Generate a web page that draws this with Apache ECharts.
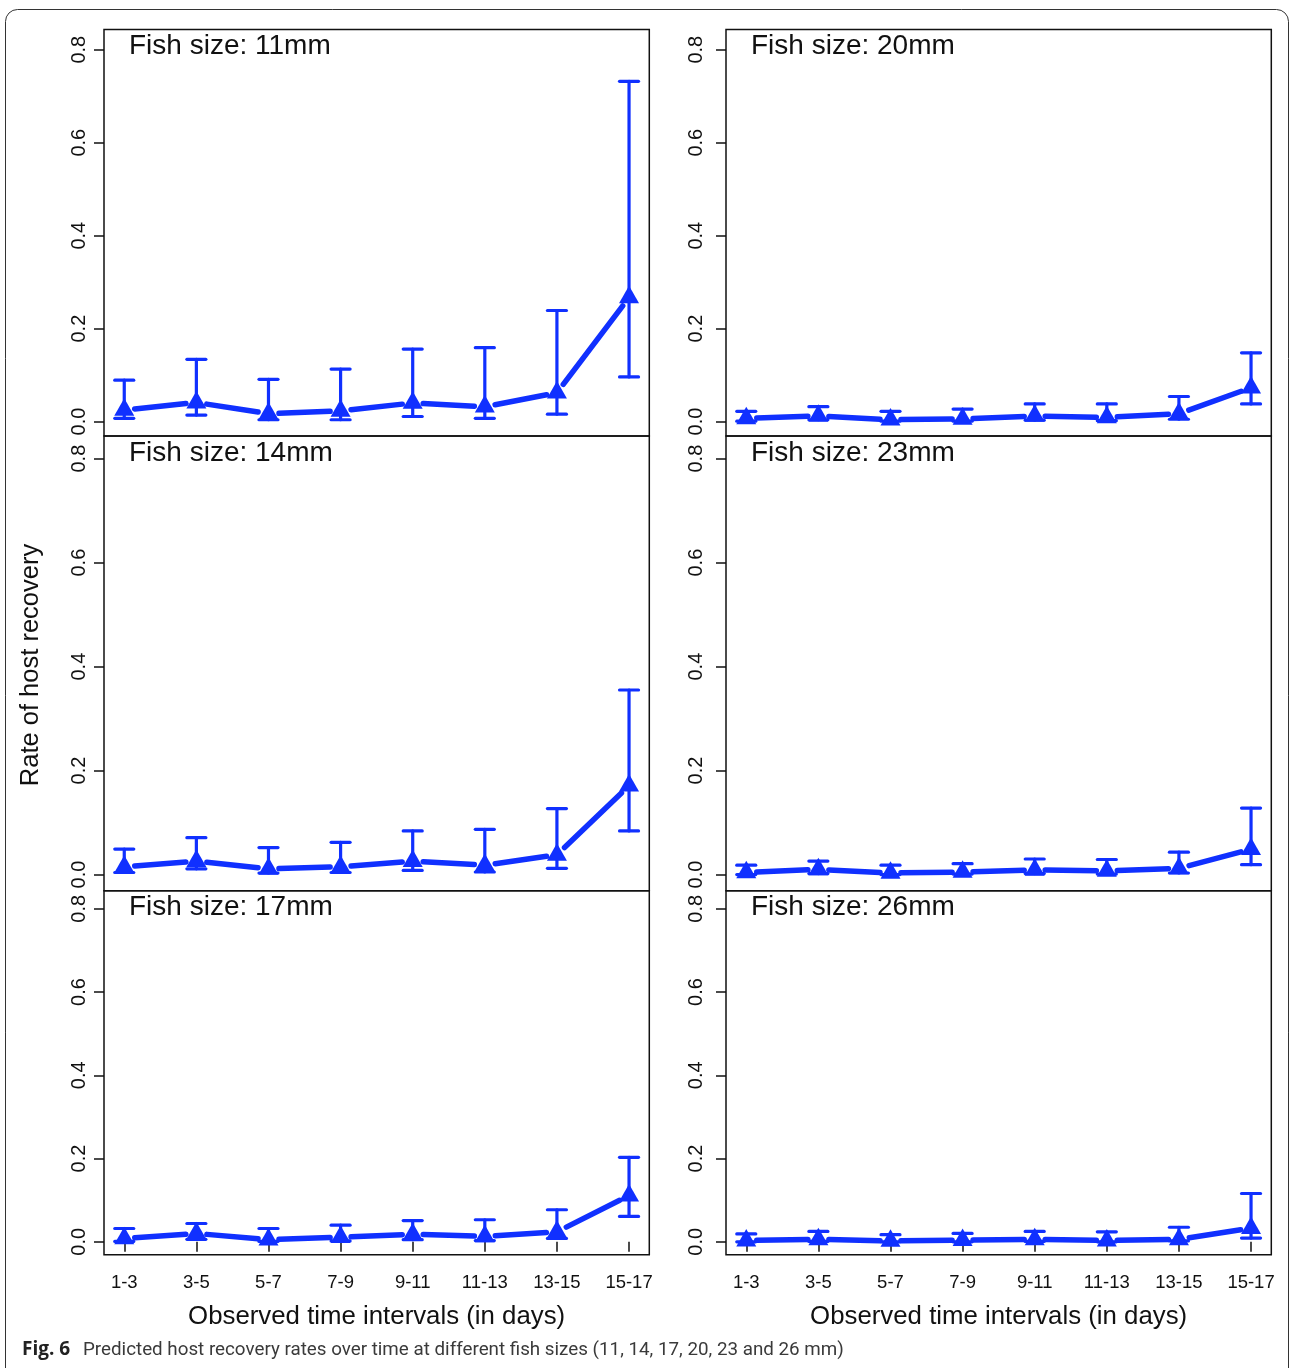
<!DOCTYPE html>
<html><head><meta charset="utf-8">
<script src="https://cdn.jsdelivr.net/npm/echarts@6/dist/echarts.min.js"></script>
<style>html,body{margin:0;padding:0;background:#fff}#c{width:1290px;height:1368px}</style>
</head><body><div id="c"></div>
<script>
// ---------- data ----------
const categories = ['1-3','3-5','5-7','7-9','9-11','11-13','13-15','15-17'];
const yTickValues = [0, 0.2, 0.4, 0.6, 0.8];
const panelTitles = ['Fish size: 11mm','Fish size: 14mm','Fish size: 17mm','Fish size: 20mm','Fish size: 23mm','Fish size: 26mm'];

const est11 = [0.025, 0.041, 0.017, 0.023, 0.040, 0.032, 0.062, 0.267];
const lo11  = [0.007, 0.014, 0.004, 0.004, 0.011, 0.007, 0.016, 0.096];
const hi11  = [0.089, 0.134, 0.091, 0.113, 0.156, 0.159, 0.239, 0.732];

const est14 = [0.015, 0.026, 0.011, 0.015, 0.026, 0.018, 0.038, 0.171];
const lo14  = [0.004, 0.011, 0.003, 0.004, 0.008, 0.005, 0.012, 0.084];
const hi14  = [0.049, 0.071, 0.052, 0.062, 0.084, 0.087, 0.127, 0.355];

const est17 = [0.008, 0.020, 0.005, 0.011, 0.018, 0.013, 0.024, 0.111];
const lo17  = [0.001, 0.006, 0.001, 0.002, 0.005, 0.003, 0.008, 0.061];
const hi17  = [0.032, 0.044, 0.032, 0.040, 0.051, 0.053, 0.077, 0.203];

const est20 = [0.007, 0.012, 0.004, 0.006, 0.012, 0.009, 0.017, 0.073];
const lo20  = [0.001, 0.004, 0.001, 0.001, 0.003, 0.002, 0.005, 0.038];
const hi20  = [0.022, 0.032, 0.022, 0.027, 0.038, 0.038, 0.054, 0.148];

const est23 = [0.004, 0.010, 0.003, 0.005, 0.009, 0.007, 0.012, 0.049];
const lo23  = [0.000, 0.002, 0.000, 0.001, 0.002, 0.001, 0.003, 0.019];
const hi23  = [0.018, 0.026, 0.018, 0.021, 0.030, 0.029, 0.043, 0.128];

const est26 = [0.003, 0.006, 0.002, 0.004, 0.006, 0.003, 0.006, 0.033];
const lo26  = [0.000, 0.001, 0.000, 0.000, 0.001, 0.000, 0.002, 0.009];
const hi26  = [0.019, 0.025, 0.017, 0.020, 0.025, 0.024, 0.035, 0.116];

// ---------- build ----------
const panelEst = [est11, est14, est17, est20, est23, est26];
const panelLo  = [lo11, lo14, lo17, lo20, lo23, lo26];
const panelHi  = [hi11, hi14, hi17, hi20, hi23, hi26];
const xs = categories.map((c, i) => i + 1);

const BLUE = '#1030ff';
const INK = '#111';
const FONT = '"Liberation Sans", Arial, Helvetica, sans-serif';

const colLeft = [104, 726];
const colWidth = 545.3;
const rowTop = [29.5, 436, 890.7];
const rowH = [406.5, 454.7, 364];
const yLabelMargin = [15, 20];

const grid = [], xAxis = [], yAxis = [], series = [], graphic = [];

for (let p = 0; p < 6; p++) {
  const col = Math.floor(p / 3), row = p % 3;
  grid.push({
    left: colLeft[col], top: rowTop[row], width: colWidth, height: rowH[row],
    show: true, borderColor: INK, borderWidth: 1.5, backgroundColor: 'transparent',
    containLabel: false
  });
  const bottomRow = row === 2;
  xAxis.push({
    type: 'value', gridIndex: p, min: 0.719, max: 8.281,
    axisLine: { show: false }, splitLine: { show: false },
    axisTick: { show: bottomRow, customValues: xs, length: 10, lineStyle: { color: INK, width: 1.5 } },
    axisLabel: {
      show: bottomRow, customValues: xs, margin: 19, fontSize: 18.5, color: INK, fontFamily: FONT,
      formatter: v => categories[Math.round(v) - 1]
    }
  });
  yAxis.push({
    type: 'value', gridIndex: p, min: -0.031, max: 0.8435,
    axisLine: { show: false }, splitLine: { show: false },
    axisTick: { show: true, customValues: yTickValues, length: 10, lineStyle: { color: INK, width: 1.5 } },
    axisLabel: {
      show: true, customValues: yTickValues, rotate: 90, margin: yLabelMargin[col],
      fontSize: 20, color: INK, fontFamily: FONT,
      formatter: v => Number(v).toFixed(1)
    }
  });

  const est = panelEst[p], lo = panelLo[p], hi = panelHi[p];

  // error bars
  series.push({
    type: 'custom', xAxisIndex: p, yAxisIndex: p, silent: true, z: 2,
    data: xs.map((x, k) => [x, lo[k], hi[k]]),
    encode: { x: 0, y: [1, 2] },
    renderItem: (params, api) => {
      const top = api.coord([api.value(0), api.value(2)]);
      const bot = api.coord([api.value(0), api.value(1)]);
      const w = 9.5;
      const st = { stroke: BLUE, lineWidth: 3.2, lineCap: 'round' };
      return { type: 'group', children: [
        { type: 'line', shape: { x1: top[0], y1: top[1], x2: bot[0], y2: bot[1] }, style: st },
        { type: 'line', shape: { x1: top[0] - w, y1: top[1], x2: top[0] + w, y2: top[1] }, style: st },
        { type: 'line', shape: { x1: bot[0] - w, y1: bot[1], x2: bot[0] + w, y2: bot[1] }, style: st }
      ]};
    }
  });

  // connecting segments with gaps around points (R type = "b")
  const segs = [];
  for (let k = 0; k < xs.length - 1; k++) segs.push([xs[k], est[k], xs[k + 1], est[k + 1]]);
  series.push({
    type: 'custom', xAxisIndex: p, yAxisIndex: p, silent: true, z: 3,
    data: segs,
    encode: { x: [0, 2], y: [1, 3] },
    renderItem: (params, api) => {
      const a = api.coord([api.value(0), api.value(1)]);
      const b = api.coord([api.value(2), api.value(3)]);
      const dx = b[0] - a[0], dy = b[1] - a[1];
      const d = Math.sqrt(dx * dx + dy * dy);
      const g = 10.5;
      if (d <= 2 * g) return null;
      const ux = dx / d, uy = dy / d;
      return { type: 'line',
        shape: { x1: a[0] + ux * g, y1: a[1] + uy * g, x2: b[0] - ux * g, y2: b[1] - uy * g },
        style: { stroke: BLUE, lineWidth: 5.5, lineCap: 'round' } };
    }
  });

  // triangle markers
  series.push({
    type: 'scatter', xAxisIndex: p, yAxisIndex: p, silent: true, z: 4,
    data: xs.map((x, k) => [x, est[k]]),
    symbol: 'triangle', symbolSize: [20, 17.5], symbolOffset: [0, -2.9],
    itemStyle: { color: BLUE, opacity: 1 }
  });

  // panel title
  graphic.push({
    type: 'text', left: colLeft[col] + 25, top: rowTop[row] + 3,
    style: { text: panelTitles[p], fontSize: 28, fontFamily: FONT, fill: INK }
  });
}

// outer frame
graphic.push({ type: 'rect', shape: { x: 5.5, y: 9.5, width: 1283, height: 1400, r: 12 },
  style: { fill: 'none', stroke: '#333', lineWidth: 1 }, z: -1 });
// axis titles
graphic.push({ type: 'text', x: 31, y: 665, rotation: Math.PI / 2,
  style: { text: 'Rate of host recovery', fontSize: 25.5, fontFamily: FONT, fill: INK, align: 'center', verticalAlign: 'middle' } });
graphic.push({ type: 'text', x: colLeft[0] + colWidth / 2, y: 1317,
  style: { text: 'Observed time intervals (in days)', fontSize: 25.8, fontFamily: FONT, fill: INK, align: 'center', verticalAlign: 'middle' } });
graphic.push({ type: 'text', x: colLeft[1] + colWidth / 2, y: 1317,
  style: { text: 'Observed time intervals (in days)', fontSize: 25.8, fontFamily: FONT, fill: INK, align: 'center', verticalAlign: 'middle' } });
// caption
graphic.push({ type: 'text', x: 22, y: 1350,
  style: { text: 'Fig. 6', fontSize: 19, fontWeight: 'bold', fontFamily: '"Open Sans", "Noto Sans", sans-serif', fill: '#222', verticalAlign: 'middle' } });
graphic.push({ type: 'text', x: 83, y: 1350,
  style: { text: 'Predicted host recovery rates over time at different fish sizes (11, 14, 17, 20, 23 and 26 mm)', fontSize: 18.8, fontFamily: 'Roboto, "Noto Sans", sans-serif', fill: '#3a3a3a', verticalAlign: 'middle' } });

const chart = echarts.init(document.getElementById('c'), null, { renderer: 'canvas' });
chart.setOption({
  animation: false,
  backgroundColor: '#fff',
  grid, xAxis, yAxis, series, graphic
});
</script></body></html>
